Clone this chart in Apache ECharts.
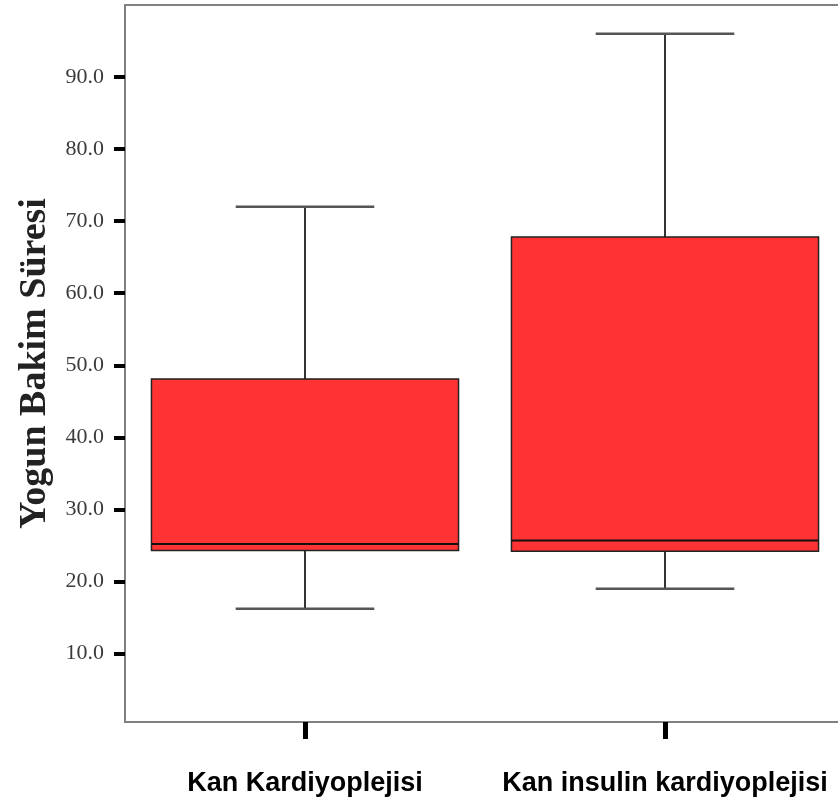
<!DOCTYPE html>
<html>
<head>
<meta charset="utf-8">
<script src="https://cdn.jsdelivr.net/npm/echarts@6/dist/echarts.min.js"></script>
<style>
  html, body { margin: 0; padding: 0; background: #fff; }
  #chart { width: 838px; height: 805px; }
</style>
</head>
<body>
<div id="chart"></div>
<script>
// gruplar
var categories = ["Kan Kardiyoplejisi", "Kan insulin kardiyoplejisi"];
// kutu grafiği değerleri: alt bıyık, Q1, medyan, Q3, üst bıyık
var lowWhisker = [16.2, 19.0];
var q1 = [24.3, 24.2];
var median = [25.2, 25.7];
var q3 = [48.1, 67.8];
var highWhisker = [72.0, 96.0];
var yTicks = [10, 20, 30, 40, 50, 60, 70, 80, 90];

var boxData = categories.map(function (c, i) {
  return [i, lowWhisker[i], q1[i], median[i], q3[i], highWhisker[i]];
});

var chart = echarts.init(document.getElementById("chart"));

function renderBox(params, api) {
  var idx = api.value(0);
  var band = api.size([1, 0])[0];
  var boxW = band * 0.853;
  var capW = band * 0.385;
  var pLow = api.coord([idx, api.value(1)]);
  var pQ1 = api.coord([idx, api.value(2)]);
  var pMed = api.coord([idx, api.value(3)]);
  var pQ3 = api.coord([idx, api.value(4)]);
  var pHigh = api.coord([idx, api.value(5)]);
  var cx = pQ1[0];
  var lineStyle = { stroke: "#333", lineWidth: 2 };
  return {
    type: "group",
    children: [
      // üst bıyık
      { type: "line", shape: { x1: cx, y1: pQ3[1], x2: cx, y2: pHigh[1] }, style: lineStyle },
      { type: "line", shape: { x1: cx - capW / 2, y1: pHigh[1], x2: cx + capW / 2, y2: pHigh[1] }, style: { stroke: "#555", lineWidth: 2.5 } },
      // alt bıyık
      { type: "line", shape: { x1: cx, y1: pQ1[1], x2: cx, y2: pLow[1] }, style: lineStyle },
      { type: "line", shape: { x1: cx - capW / 2, y1: pLow[1], x2: cx + capW / 2, y2: pLow[1] }, style: { stroke: "#555", lineWidth: 2.5 } },
      // kutu
      {
        type: "rect",
        shape: { x: cx - boxW / 2, y: pQ3[1], width: boxW, height: pQ1[1] - pQ3[1] },
        style: { fill: "#ff3333", stroke: "#222", lineWidth: 1.5 }
      },
      // medyan
      { type: "line", shape: { x1: cx - boxW / 2, y1: pMed[1], x2: cx + boxW / 2, y2: pMed[1] }, style: { stroke: "#111", lineWidth: 2 } }
    ]
  };
}

var option = {
  backgroundColor: "#fff",
  animation: false,
  grid: {
    left: 125,
    right: -7,
    top: 5,
    bottom: 83,
    outerBoundsMode: "none",
    show: true,
    borderColor: "#808080",
    borderWidth: 2
  },
  xAxis: {
    type: "category",
    data: categories,
    axisLine: { show: false },
    axisTick: {
      show: true,
      interval: 0,
      alignWithLabel: true,
      length: 17,
      lineStyle: { color: "#000", width: 5 }
    },
    axisLabel: {
      interval: 0,
      margin: 48,
      color: "#000",
      fontFamily: "Liberation Sans",
      fontWeight: "bold",
      fontSize: 27
    },
    splitLine: { show: false }
  },
  yAxis: {
    type: "value",
    min: 0.5,
    max: 100,
    name: "Yogun Bakim Süresi",
    nameLocation: "middle",
    nameGap: 71,
    nameTextStyle: {
      fontFamily: "Liberation Serif",
      fontWeight: "bold",
      fontSize: 38,
      color: "#222"
    },
    axisLine: { show: false },
    axisTick: {
      show: true,
      customValues: yTicks,
      length: 11,
      lineStyle: { color: "#000", width: 4 }
    },
    axisLabel: {
      customValues: yTicks,
      formatter: function (v) { return v.toFixed(1); },
      margin: 21,
      color: "#3a3a3a",
      fontFamily: "Liberation Serif",
      fontSize: 22
    },
    splitLine: { show: false }
  },
  series: [
    {
      type: "custom",
      renderItem: renderBox,
      encode: { x: 0, y: [1, 2, 3, 4, 5] },
      data: boxData
    }
  ]
};

chart.setOption(option);
</script>
</body>
</html>
